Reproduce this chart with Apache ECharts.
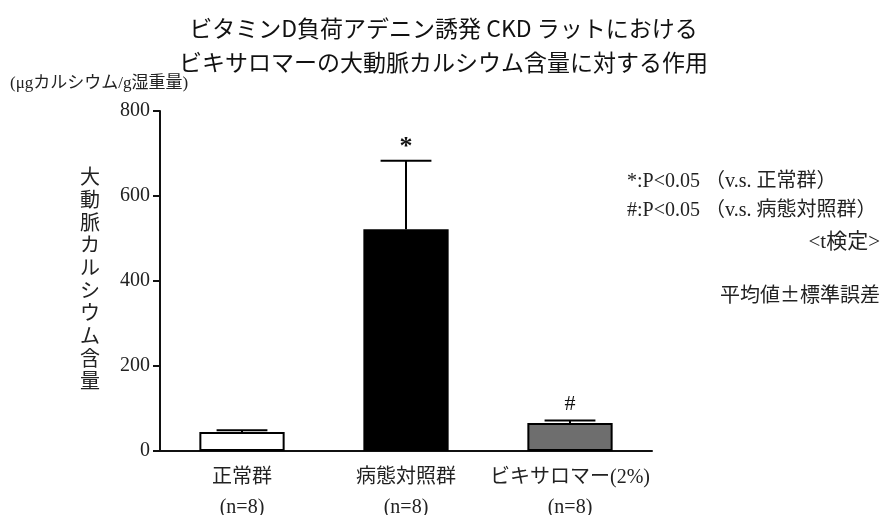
<!DOCTYPE html>
<html>
<head>
<meta charset="utf-8">
<script src="https://cdn.jsdelivr.net/npm/echarts@6/dist/echarts.min.js"></script>
<style>
  html, body { margin: 0; padding: 0; background: #fff; }
  #chart { width: 887px; height: 515px; }
</style>
</head>
<body>
<div id="chart"></div>
<script>
// Groups, group sizes, mean aortic calcium content and SEM (µg Ca / g wet weight)
const categories = ['正常群', '病態対照群', 'ビキサロマー(2%)'];
const groupSizes = ['(n=8)', '(n=8)', '(n=8)'];
const meanValues = [45, 522, 66];
const semValues = [4, 161, 6];
const sigMarks = ['', '*', '#'];
const yTicks = [0, 200, 400, 600, 800];

const barColors = ['#ffffff', '#000000', '#6e6e6e'];
const SERIF = '"Liberation Serif", "Noto Sans CJK JP", serif';
const GOTHIC = '"Noto Sans CJK JP", sans-serif';

const chart = echarts.init(document.getElementById('chart'), null, { renderer: 'canvas' });

const option = {
  backgroundColor: '#ffffff',
  animation: false,
  title: {
    text: 'ビタミンD負荷アデニン誘発 CKD ラットにおける\nビキサロマーの大動脈カルシウム含量に対する作用',
    left: 'center',
    top: 6,
    textStyle: {
      fontFamily: GOTHIC,
      fontSize: 23,
      fontWeight: 'normal',
      lineHeight: 34,
      color: '#111'
    }
  },
  grid: { left: 160, right: 235, top: 111, bottom: 64, containLabel: false, outerBoundsMode: 'none' },
  xAxis: {
    type: 'category',
    data: categories,
    axisLine: { show: true, lineStyle: { color: '#111', width: 2 } },
    axisTick: { show: false },
    axisLabel: {
      margin: 12,
      interval: 0,
      fontFamily: SERIF,
      fontSize: 20,
      lineHeight: 30,
      color: '#222',
      formatter: (v, i) => v + '\n' + groupSizes[i]
    }
  },
  yAxis: {
    type: 'value',
    min: yTicks[0],
    max: yTicks[yTicks.length - 1],
    interval: yTicks[1] - yTicks[0],
    name: '大動脈カルシウム含量'.split('').join('\n'),
    nameLocation: 'middle',
    nameRotate: 0,
    nameGap: 70,
    nameTextStyle: {
      fontFamily: SERIF,
      fontSize: 20,
      lineHeight: 22.7,
      color: '#222',
      align: 'center',
      verticalAlign: 'middle'
    },
    splitLine: { show: false },
    axisLine: { show: true, lineStyle: { color: '#111', width: 2 } },
    axisTick: { show: true, length: 7, lineStyle: { color: '#111', width: 2 } },
    axisLabel: {
      margin: 10,
      fontFamily: SERIF,
      fontSize: 20,
      color: '#222'
    }
  },
  graphic: [
    {
      type: 'text', left: 10, top: 75,
      style: { text: '(μgカルシウム/g湿重量)', font: '17px ' + SERIF, fill: '#222' }
    },
    {
      type: 'text', left: 627, top: 172,
      style: { text: '*:P<0.05 （v.s. 正常群）', font: '20px ' + SERIF, fill: '#222' }
    },
    {
      type: 'text', left: 627, top: 201,
      style: { text: '#:P<0.05 （v.s. 病態対照群）', font: '20px ' + SERIF, fill: '#222' }
    },
    {
      type: 'text', right: 7, top: 232,
      style: { text: '<t検定>', font: '21px ' + SERIF, fill: '#222' }
    },
    {
      type: 'text', right: 7, top: 284,
      style: { text: '平均値±標準誤差', font: '20px ' + GOTHIC, fill: '#222' }
    }
  ],
  series: [
    {
      type: 'bar',
      barWidth: '52%',
      data: meanValues.map((v, i) => ({ value: v, itemStyle: { color: barColors[i] } })),
      itemStyle: { borderColor: '#000', borderWidth: 2 },
      z: 2
    },
    {
      // upper SEM whiskers plus significance marks
      type: 'custom',
      z: 3,
      data: meanValues.map((v, i) => [i, v, v + semValues[i]]),
      renderItem: function (params, api) {
        const mean = api.coord([api.value(0), api.value(1)]);
        const top = api.coord([api.value(0), api.value(2)]);
        const half = api.size([1, 0])[0] * 0.155;
        const children = [
          { type: 'line', shape: { x1: mean[0], y1: mean[1], x2: top[0], y2: top[1] },
            style: { stroke: '#000', lineWidth: 2 } },
          { type: 'line', shape: { x1: top[0] - half, y1: top[1], x2: top[0] + half, y2: top[1] },
            style: { stroke: '#000', lineWidth: 2 } }
        ];
        const mark = sigMarks[params.dataIndex];
        if (mark) {
          const isStar = mark === '*';
          children.push({
            type: 'text',
            style: {
              text: mark, x: top[0], y: top[1] - (isStar ? 0 : 5),
              align: 'center', verticalAlign: 'bottom',
              font: (isStar ? 'bold 26px ' : '22px ') + SERIF, fill: '#111'
            }
          });
        }
        return { type: 'group', children: children };
      }
    }
  ]
};

chart.setOption(option);
</script>
</body>
</html>
